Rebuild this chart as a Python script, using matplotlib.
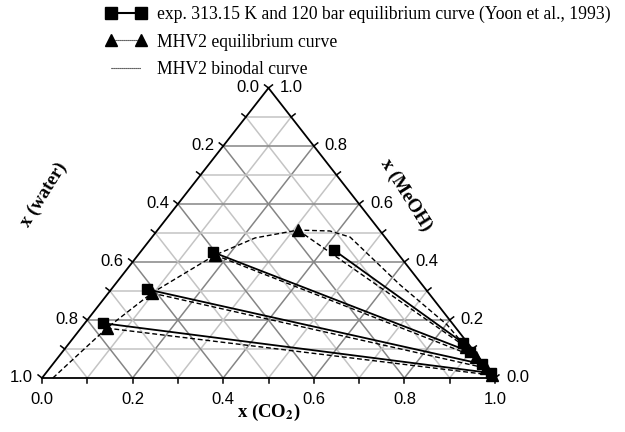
import numpy as np
import matplotlib
matplotlib.use("Agg")
import matplotlib.pyplot as plt
from matplotlib.lines import Line2D

plt.rcParams['mathtext.fontset'] = 'stix'

# ---------------- data (mole fractions) ----------------
# experimental tie lines (liquid / vapour ends): x(CO2), x(MeOH)
exp_co2_L = [0.040, 0.078, 0.160, 0.424]
exp_meoh_L = [0.189, 0.306, 0.434, 0.441]
exp_co2_V = [0.983, 0.947, 0.900, 0.869]
exp_meoh_V = [0.017, 0.048, 0.090, 0.121]

# MHV2 equilibrium tie lines
mhv_co2_L = [0.057, 0.096, 0.170, 0.310]
mhv_meoh_L = [0.172, 0.293, 0.424, 0.510]
mhv_co2_V = [0.988, 0.963, 0.922, 0.882]
mhv_meoh_V = [0.010, 0.034, 0.072, 0.107]

# MHV2 binodal curve
bin_co2 = [0.024, 0.057, 0.096, 0.170, 0.229, 0.310, 0.382, 0.437, 0.630, 0.803, 0.882, 0.994]
bin_meoh = [0.000, 0.172, 0.293, 0.424, 0.483, 0.510, 0.507, 0.486, 0.321, 0.183, 0.107, 0.003]

tick_vals = [0.0, 0.2, 0.4, 0.6, 0.8, 1.0]
tick_labels = ["0.0", "0.2", "0.4", "0.6", "0.8", "1.0"]

legend_labels = ["exp. 313.15 K and 120 bar equilibrium curve (Yoon et al., 1993)",
                 "MHV2 equilibrium curve",
                 "MHV2 binodal curve"]


def tern(co2, meoh):
    co2 = np.asarray(co2, float)
    meoh = np.asarray(meoh, float)
    return co2 + meoh / 2.0, meoh


W, H = 625, 432
fig = plt.figure(figsize=(W / 100, H / 100), dpi=100)
# triangle box in pixels
L, B, TW, TH = 42, 54, 453, 290
ax = fig.add_axes([L / W, B / H, TW / W, TH / H])
ax.set_xlim(0, 1)
ax.set_ylim(0, 1)
ax.axis('off')

# grid
for k in range(1, 10):
    f = k / 10
    col = '#858585' if k % 2 == 0 else '#c4c4c4'
    lw = 1.1
    x, y = tern([0, 1 - f], [f, f])
    ax.plot(x, y, color=col, lw=lw, zorder=1)
    x, y = tern([f, f], [0, 1 - f])
    ax.plot(x, y, color=col, lw=lw, zorder=1)
    x, y = tern([1 - f, 0], [0, 1 - f])
    ax.plot(x, y, color=col, lw=lw, zorder=1)

# triangle frame
x, y = tern([0, 1, 0, 0], [0, 0, 1, 0])
ax.plot(x, y, color='black', lw=1.3, zorder=5, clip_on=False, solid_joinstyle='miter')

# ticks (perpendicular to each edge, in pixel space)
tl = 5.0
nl = np.array([-290.0, 226.5]); nl /= np.hypot(*nl)
nr = np.array([290.0, 226.5]); nr /= np.hypot(*nr)
for k in range(11):
    f = k / 10
    x0, y0 = tern(f, 0)
    ax.plot([x0, x0], [0, -tl / TH], color='black', lw=1.1, clip_on=False, zorder=5)
    x0, y0 = tern(0, 1 - f)
    ax.plot([x0, x0 + nl[0] * tl / TW], [y0, y0 + nl[1] * tl / TH], color='black', lw=1.1,
            clip_on=False, zorder=5)
    x0, y0 = tern(1 - f, f)
    ax.plot([x0, x0 + nr[0] * tl / TW], [y0, y0 + nr[1] * tl / TH], color='black', lw=1.1,
            clip_on=False, zorder=5)

tfs = 12
for v, lab in zip(tick_vals, tick_labels):
    x0, y0 = tern(v, 0)
    ax.text(x0, -22 / TH, lab, ha='center', va='center', fontsize=tfs, family='Liberation Sans')
    x0, y0 = tern(0, 1 - v)
    ax.text(x0 - 9 / TW, y0 + 1 / TH, lab, ha='right', va='center', fontsize=tfs,
            family='Liberation Sans')
    x0, y0 = tern(1 - v, v)
    ax.text(x0 + 11 / TW, y0 + 1 / TH, lab, ha='left', va='center', fontsize=tfs,
            family='Liberation Sans')

# axis titles
ax.text(0.5, -34 / TH, r'x (CO$_{\mathbf{2}}$)', ha='center', va='center', fontsize=13.5,
        family='Liberation Serif', weight='bold')
ax.text((44 - L) / TW, (378 - 195) / TH, 'x (water)', ha='center', va='center', fontsize=13.5,
        family='Liberation Serif', weight='bold', rotation=58, rotation_mode='anchor')
ax.text((406 - L) / TW, (378 - 195) / TH, 'x (MeOH)', ha='center', va='center', fontsize=13.5,
        family='Liberation Serif', weight='bold', rotation=-58, rotation_mode='anchor')

# binodal
bx, by = tern(bin_co2, bin_meoh)
ax.plot(bx, by, color='black', lw=1.0, ls=(0, (3.5, 2)), zorder=6, clip_on=False)

# MHV2 tie lines
for cl, ml, cv, mv in zip(mhv_co2_L, mhv_meoh_L, mhv_co2_V, mhv_meoh_V):
    x, y = tern([cl, cv], [ml, mv])
    ax.plot(x, y, color='black', lw=1.0, ls=(0, (3.5, 2)), marker='^', ms=8, zorder=7,
            clip_on=False)

# experimental tie lines
for cl, ml, cv, mv in zip(exp_co2_L, exp_meoh_L, exp_co2_V, exp_meoh_V):
    x, y = tern([cl, cv], [ml, mv])
    ax.plot(x, y, color='black', lw=1.3, ls='-', marker='s', ms=7.5, zorder=8, clip_on=False)

handles = [
    Line2D([], [], color='black', lw=1.5, marker='s', ms=8),
    Line2D([], [], color='black', lw=0.8, ls=(0, (1, 0.8)), marker='^', ms=8),
    Line2D([], [], color='black', lw=0.8, ls=(0, (1, 0.8))),
]
fig.legend(handles, legend_labels, loc='upper left', bbox_to_anchor=(106 / W, 1 - 6 / H),
           frameon=False, numpoints=2, handlelength=2.3, handletextpad=0.6,
           labelspacing=0.58, borderpad=0, borderaxespad=0,
           prop={'family': 'Liberation Serif', 'size': 12.7})

fig.savefig('out.png', dpi=100)
